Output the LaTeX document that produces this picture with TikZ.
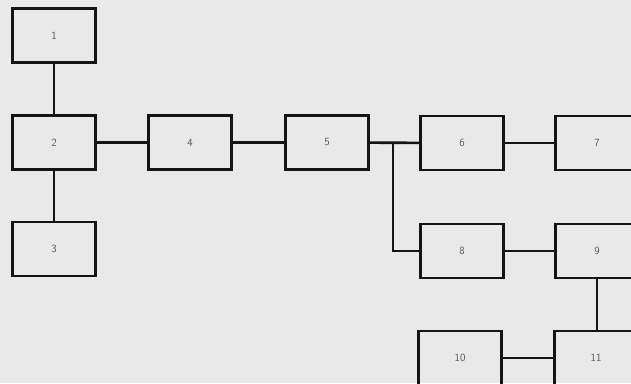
\documentclass[tikz,border=0pt]{standalone}
\usepackage{tikz}
\usetikzlibrary{positioning}
\definecolor{paper}{RGB}{233,233,233}
\definecolor{ink}{RGB}{20,20,20}
\definecolor{lbl}{RGB}{85,85,85}
\tikzset{
  blk/.style={draw=ink, line width=2.6pt, minimum width=83pt, minimum height=54pt,
    inner sep=0pt, font=\sffamily\fontsize{11}{13}\selectfont, text=lbl},
  wire/.style={draw=ink, line width=2.6pt}
}
\begin{document}
\begin{tikzpicture}[x=1pt, y=-1pt]
    \fill [paper] (0, 0) rectangle (631, 383);
    \clip (0, 0) rectangle (631, 383);

    \node [blk] (b1) at (54, 35.5) {1};
    \node [blk] (b2) at (54, 142.5) {2};
    \node [blk] (b3) at (54, 249) {3};
    \node [blk] (b4) at (190, 142.5) {4};
    \node [blk] (b5) at (327, 142.5) {5};
    \node [blk] (b6) at (462, 143) {6};
    \node [blk] (b7) at (597, 143) {7};
    \node [blk] (b8) at (462, 251) {8};
    \node [blk] (b9) at (597, 251) {9};
    \node [blk] (b10) at (460, 358) {10};
    \node [blk] (b11) at (596, 358) {11};

    \coordinate (br) at (393, 143);

    \draw [wire] (b1) -- (b2);
    \draw [wire] (b2) -- (b3);
    \draw [wire] (b2) -- (b4);
    \draw [wire] (b4) -- (b5);
    \draw [wire] (b5) -- (b6);
    \draw [wire] (b6) -- (b7);
    \draw [wire] (br) |- (b8);
    \draw [wire] (b8) -- (b9);
    \draw [wire] (b9.south) -- (b9.south |- b11.north);
    \draw [wire] (b10) -- (b11);
\end{tikzpicture}
\end{document}
